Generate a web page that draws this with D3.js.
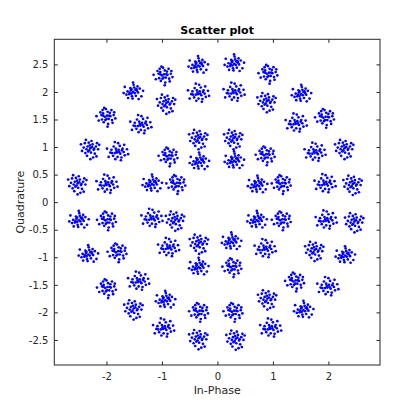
<!DOCTYPE html>
<html>
<head>
<meta charset="utf-8">
<script src="https://cdn.jsdelivr.net/npm/d3@7"></script>
<style>
  html, body { margin: 0; padding: 0; background: #fff; }
  svg { display: block; font-family: "DejaVu Sans", sans-serif; }
</style>
</head>
<body>
<svg id="chart" width="420" height="420"></svg>
<script>
// cluster centres, [I, Q]
const centres = [
  // upper right
  [0.30, 2.51], [0.92, 2.33], [0.30, 1.99], [0.89, 1.82], [1.51, 1.96], [1.94, 1.53],
  [1.42, 1.43], [0.29, 1.15], [0.30, 0.75], [0.87, 0.85], [1.76, 0.90], [2.29, 0.97],
  [0.72, 0.31], [1.16, 0.33], [1.94, 0.33], [2.44, 0.32],
  // upper left
  [-0.35, 2.48], [-0.97, 2.30], [-0.34, 1.97], [-0.92, 1.79], [-1.52, 2.00], [-2.00, 1.55],
  [-1.38, 1.40], [-0.34, 1.15], [-0.33, 0.73], [-0.88, 0.83], [-1.80, 0.91], [-2.29, 0.97],
  [-1.18, 0.33], [-0.74, 0.33], [-1.99, 0.32], [-2.52, 0.33],
  // lower left
  [-2.50, -0.33], [-1.99, -0.33], [-1.18, -0.30], [-0.76, -0.33], [-2.33, -0.95], [-1.80, -0.91],
  [-0.88, -0.83], [-0.33, -0.75], [-0.34, -1.18], [-1.99, -1.56], [-1.42, -1.44], [-1.51, -1.94],
  [-0.94, -1.78], [-0.33, -1.99], [-0.97, -2.29], [-0.34, -2.48],
  // lower right
  [0.71, -0.33], [1.16, -0.33], [1.96, -0.33], [2.47, -0.36], [0.25, -0.72], [0.27, -1.18],
  [0.86, -0.85], [1.75, -0.88], [2.30, -0.97], [1.40, -1.44], [1.99, -1.54], [0.90, -1.76],
  [1.55, -1.96], [0.29, -1.99], [0.96, -2.29], [0.33, -2.49]
];

// scatter of received symbols around a centre, in hundredths, estimated from the clusters
const spreadA = [[0,0],[3,-2],[-4,3],[6,5],[-7,-4],[2,8],[-2,-8],[9,-1],[-10,1],[5,-7],[-5,7],[12,6],[-12,-5],[1,13],
  [-1,-12],[7,2],[-6,-1],[15,-8],[-15,9],[4,4],[-3,-3],[8,10],[-9,-11],[18,2],[-17,-2],[0,17],[10,-13],[-3,5]];
const spreadB = [[1,2],[-3,0],[4,-4],[-6,6],[7,1],[-2,-6],[2,9],[-9,3],[10,-6],[-5,-10],[13,3],[-11,8],[3,-13],[-1,14],
  [6,7],[-8,-5],[16,-3],[-14,-7],[9,12],[-4,16],[0,-4],[5,2],[-6,2],[11,-11],[-18,1],[2,-18],[-7,12],[14,8]];
const spreadC = [[-1,-1],[2,4],[-5,-2],[5,-3],[-3,6],[8,3],[-8,-7],[0,-9],[11,0],[-11,4],[4,11],[-4,-13],[13,-6],[-13,-1],
  [7,-10],[-7,10],[1,16],[17,5],[-16,-9],[3,0],[-2,2],[9,6],[-10,-2],[6,-15],[-5,18],[19,-4],[-19,6],[12,13]];
const spreadD = [[0,1],[-2,-3],[3,3],[-5,4],[6,-2],[-7,-1],[1,-7],[4,8],[-9,-8],[10,4],[-3,11],[8,-9],[-12,2],[14,-1],
  [-6,-13],[2,14],[-10,10],[12,10],[-15,-4],[5,-16],[-1,6],[7,0],[-4,-5],[16,7],[-17,8],[0,-19],[11,-14],[-8,16]];
const spreads = [spreadA, spreadB, spreadC, spreadD];

const xTicks = [-2, -1, 0, 1, 2];
const yTicks = [-2.5, -2, -1.5, -1, -0.5, 0, 0.5, 1, 1.5, 2, 2.5];

const svg = d3.select('#chart');
const box = { left: 54.3, right: 380, top: 39.3, bottom: 365 };
const ink = '#262626';

const x = d3.scaleLinear().domain([-2.94, 2.93]).range([box.left, box.right]);
const y = d3.scaleLinear().domain([-2.955, 2.955]).range([box.bottom, box.top]);

const points = [];
centres.forEach((c, i) => {
  spreads[i % 4].forEach(([dx, dy]) => points.push([c[0] + dx / 100, c[1] + dy / 100]));
});

svg.append('g')
  .selectAll('circle')
  .data(points)
  .join('circle')
  .attr('cx', d => x(d[0]))
  .attr('cy', d => y(d[1]))
  .attr('r', 1.35)
  .attr('fill', '#0000ff');

const fmt = d => String(d);
const styleAxis = g => {
  g.select('.domain').remove();
  g.selectAll('line').attr('stroke', ink).attr('stroke-width', 1);
  g.selectAll('text').attr('fill', ink).attr('font-size', 10).attr('font-family', '"DejaVu Sans", sans-serif');
};

svg.append('g').attr('transform', `translate(0,${box.bottom})`)
  .call(d3.axisBottom(x).tickValues(xTicks).tickSize(-3.5).tickPadding(8).tickFormat(fmt))
  .call(styleAxis);
svg.append('g').attr('transform', `translate(0,${box.top})`)
  .call(d3.axisTop(x).tickValues(xTicks).tickSize(-3.5).tickFormat(''))
  .call(styleAxis);
svg.append('g').attr('transform', `translate(${box.left},0)`)
  .call(d3.axisLeft(y).tickValues(yTicks).tickSize(-3.5).tickPadding(6).tickFormat(fmt))
  .call(styleAxis);
svg.append('g').attr('transform', `translate(${box.right},0)`)
  .call(d3.axisRight(y).tickValues(yTicks).tickSize(-3.5).tickFormat(''))
  .call(styleAxis);

svg.append('rect')
  .attr('x', box.left).attr('y', box.top)
  .attr('width', box.right - box.left).attr('height', box.bottom - box.top)
  .attr('fill', 'none').attr('stroke', ink).attr('stroke-width', 1);

svg.append('text')
  .attr('x', (box.left + box.right) / 2).attr('y', 34)
  .attr('text-anchor', 'middle')
  .attr('font-size', 11).attr('font-weight', 'bold').attr('fill', '#000')
  .text('Scatter plot');

svg.append('text')
  .attr('x', (box.left + box.right) / 2).attr('y', 394)
  .attr('text-anchor', 'middle')
  .attr('font-size', 11).attr('fill', ink)
  .text('In-Phase');

svg.append('text')
  .attr('transform', `translate(24,${(box.top + box.bottom) / 2}) rotate(-90)`)
  .attr('text-anchor', 'middle')
  .attr('font-size', 11).attr('fill', ink)
  .text('Quadrature');
</script>
</body>
</html>
